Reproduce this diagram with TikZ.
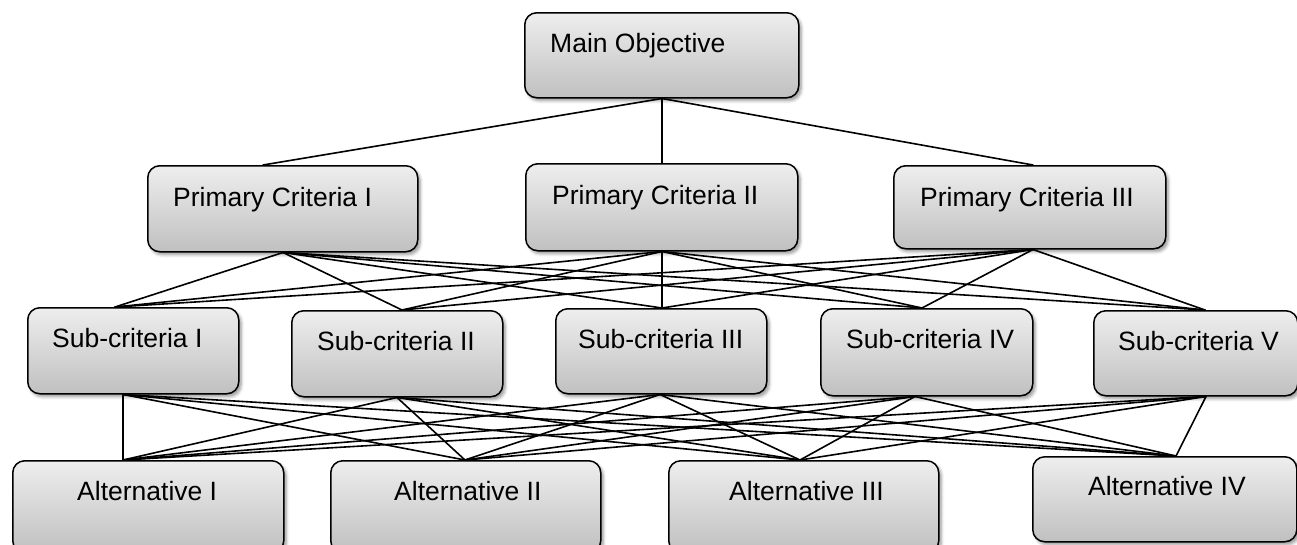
\documentclass[tikz,border=0pt]{standalone}
\usepackage{fontspec}
\setmainfont{Liberation Sans}
\usetikzlibrary{shadows.blur}
\definecolor{boxtop}{HTML}{EEEEEE}
\definecolor{boxbot}{HTML}{C0C0C0}
\begin{document}
\begin{tikzpicture}[x=1pt,y=-1pt,
  boxnode/.style={draw=black, line width=1.5pt, rounded corners=12pt,
    top color=boxtop, bottom color=boxbot, anchor=north west, inner sep=0pt,
    blur shadow={shadow xshift=2.5pt, shadow yshift=-3pt, shadow opacity=40, shadow blur radius=3pt}},
  lbl/.style={anchor=base west, inner sep=0pt, font=\fontsize{26.5}{30}\selectfont},
  link/.style={line width=1.6pt, line cap=round}]
\useasboundingbox (0,0) rectangle (1297,544);

% goal
\node[boxnode, minimum width=274pt, minimum height=85pt] (m) at (524,12) {};
% primary criteria
\node[boxnode, minimum width=270pt, minimum height=86pt] (p1) at (147,165) {};
\node[boxnode, minimum width=272pt, minimum height=87pt] (p2) at (525,163) {};
\node[boxnode, minimum width=272pt, minimum height=83pt] (p3) at (893,165) {};
% sub-criteria
\node[boxnode, minimum width=211pt, minimum height=86pt] (s1) at (27,307) {};
\node[boxnode, minimum width=211pt, minimum height=86pt] (s2) at (291,310) {};
\node[boxnode, minimum width=211pt, minimum height=85pt] (s3) at (555,308) {};
\node[boxnode, minimum width=212pt, minimum height=87pt] (s4) at (820,308) {};
\node[boxnode, minimum width=204pt, minimum height=85pt] (s5) at (1093,310) {};
% alternatives (the first three run past the lower edge)
\node[boxnode, minimum width=271pt, minimum height=92pt] (a1) at (12,460) {};
\node[boxnode, minimum width=270pt, minimum height=92pt] (a2) at (330,460) {};
\node[boxnode, minimum width=270pt, minimum height=92pt] (a3) at (668,460) {};
\node[boxnode, minimum width=264pt, minimum height=85pt] (a4) at (1032,456) {};

% labels
\node[lbl] (mt) at (550,52) {Main Objective};
\node[lbl] (p1t) at (173,206) {Primary Criteria I};
\node[lbl] (p2t) at (552,204) {Primary Criteria II};
\node[lbl] (p3t) at (920,206) {Primary Criteria III};
\node[lbl] (s1t) at (52,347) {Sub-criteria I};
\node[lbl] (s2t) at (317,350) {Sub-criteria II};
\node[lbl] (s3t) at (578,348) {Sub-criteria III};
\node[lbl] (s4t) at (846,348) {Sub-criteria IV};
\node[lbl] (s5t) at (1118,350) {Sub-criteria V};
\node[lbl] (a1t) at (77,500) {Alternative I};
\node[lbl] (a2t) at (394,500) {Alternative II};
\node[lbl] (a3t) at (729,500) {Alternative III};
\node[lbl] (a4t) at (1088,495) {Alternative IV};

% attachment points on the box edges
\coordinate (m-b) at ([xshift=138pt]m.south west);
\coordinate (p1-t) at ([xshift=116pt]p1.north west);
\coordinate (p2-t) at ([xshift=137pt]p2.north west);
\coordinate (p3-t) at ([xshift=140pt]p3.north west);
\coordinate (p1-b) at ([xshift=136pt]p1.south west);
\coordinate (p2-b) at ([xshift=137pt]p2.south west);
\coordinate (p3-b) at ([xshift=140pt]p3.south west);
\coordinate (s1-t) at ([xshift=88pt]s1.north west);
\coordinate (s2-t) at ([xshift=111pt]s2.north west);
\coordinate (s3-t) at ([xshift=107pt]s3.north west);
\coordinate (s4-t) at ([xshift=102pt]s4.north west);
\coordinate (s5-t) at ([xshift=112pt]s5.north west);
\coordinate (s1-b) at ([xshift=96pt]s1.south west);
\coordinate (s2-b) at ([xshift=106pt]s2.south west);
\coordinate (s3-b) at ([xshift=105pt]s3.south west);
\coordinate (s4-b) at ([xshift=95pt]s4.south west);
\coordinate (s5-b) at ([xshift=113pt]s5.south west);
\coordinate (a1-t) at ([xshift=111pt]a1.north west);
\coordinate (a2-t) at ([xshift=135pt]a2.north west);
\coordinate (a3-t) at ([xshift=132pt]a3.north west);
\coordinate (a4-t) at ([xshift=144pt]a4.north west);

% connectors
\foreach \v in {p1-t,p2-t,p3-t} \draw[link] (m-b) -- (\v);
\foreach \u in {p1-b,p2-b,p3-b}
  \foreach \v in {s1-t,s2-t,s3-t,s4-t,s5-t} \draw[link] (\u) -- (\v);
\foreach \u in {s1-b,s2-b,s3-b,s4-b,s5-b}
  \foreach \v in {a1-t,a2-t,a3-t,a4-t} \draw[link] (\u) -- (\v);
\end{tikzpicture}
\end{document}
